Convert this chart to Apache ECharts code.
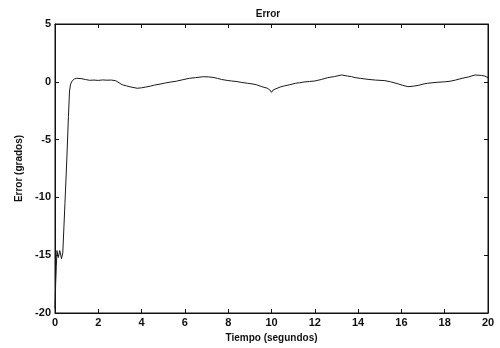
<!DOCTYPE html>
<html>
<head>
<meta charset="utf-8">
<script src="https://cdn.jsdelivr.net/npm/echarts@6/dist/echarts.min.js"></script>
<style>html,body{margin:0;padding:0;background:#fff}#c{width:500px;height:348px}</style>
</head>
<body>
<div id="c"></div>
<script>
var titleText = "Error";
var xName = "Tiempo (segundos)";
var yName = "Error (grados)";
var xTicks = [0, 2, 4, 6, 8, 10, 12, 14, 16, 18, 20];
var yTicks = [-20, -15, -10, -5, 0, 5];
var timeValues = [0, 0.03, 0.06, 0.09, 0.15, 0.22, 0.3, 0.36, 0.46, 0.55, 0.62, 0.67, 0.72, 0.8, 0.9, 1.0, 1.2, 1.4, 1.6, 1.8, 2.0, 2.2, 2.4, 2.6, 2.8, 3.1, 3.3, 3.5, 3.8, 4.0, 4.2, 4.4, 4.6, 4.85, 5.1, 5.35, 5.6, 5.9, 6.2, 6.5, 6.85, 7.1, 7.3, 7.5, 7.7, 7.95, 8.16, 8.4, 8.6, 8.9, 9.1, 9.3, 9.55, 9.8, 9.92, 10.0, 10.08, 10.16, 10.4, 10.6, 10.85, 11.1, 11.3, 11.5, 11.75, 12.0, 12.3, 12.6, 12.9, 13.24, 13.5, 13.7, 13.86, 14.1, 14.46, 14.8, 15.24, 15.5, 15.8, 16.05, 16.3, 16.55, 16.8, 17.0, 17.2, 17.6, 18.0, 18.25, 18.5, 18.8, 19.1, 19.4, 19.7, 19.85, 20.0];
var errorValues = [-19.6, -17.5, -16.0, -14.6, -15.2, -14.6, -15.3, -14.8, -10.5, -6.5, -3.0, -0.8, -0.2, 0.1, 0.25, 0.3, 0.28, 0.2, 0.13, 0.15, 0.12, 0.16, 0.14, 0.15, 0.1, -0.25, -0.35, -0.45, -0.56, -0.52, -0.45, -0.38, -0.28, -0.2, -0.1, -0.02, 0.05, 0.18, 0.3, 0.36, 0.44, 0.42, 0.38, 0.3, 0.2, 0.12, 0.07, 0.02, -0.05, -0.13, -0.18, -0.25, -0.42, -0.55, -0.7, -0.91, -0.7, -0.56, -0.45, -0.35, -0.25, -0.13, -0.08, -0.02, 0.03, 0.07, 0.2, 0.36, 0.45, 0.59, 0.5, 0.45, 0.36, 0.3, 0.21, 0.15, 0.1, 0.0, -0.15, -0.3, -0.42, -0.38, -0.3, -0.2, -0.13, -0.05, 0.0, 0.05, 0.15, 0.3, 0.42, 0.59, 0.55, 0.5, 0.36];

var seriesData = timeValues.map(function (t, i) { return [t, errorValues[i]]; });
var fontBase = {fontFamily: "Liberation Sans, Arial, sans-serif", fontWeight: "bold", fontSize: 11, color: "#111"};

var chart = echarts.init(document.getElementById("c"), null, {renderer: "canvas"});
chart.setOption({
  backgroundColor: "#fff",
  animation: false,
  title: {
    text: titleText, left: 263, top: 4, textAlign: "center",
    textStyle: Object.assign({}, fontBase, {fontSize: 10})
  },
  grid: {left: 55, right: 12, top: 24, bottom: 35, show: true, borderColor: "#111", borderWidth: 1},
  xAxis: [{
    type: "value", min: xTicks[0], max: xTicks[xTicks.length - 1], interval: 2,
    name: xName, nameLocation: "middle", nameGap: 19,
    nameTextStyle: Object.assign({}, fontBase, {fontSize: 10}),
    axisLine: {show: true, onZero: false, lineStyle: {color: "#111", width: 1}},
    axisTick: {show: true, inside: true, length: 4, lineStyle: {color: "#111"}},
    axisLabel: Object.assign({}, fontBase, {margin: 4}),
    splitLine: {show: false}
  }, {
    type: "value", position: "top", min: xTicks[0], max: xTicks[xTicks.length - 1], interval: 2,
    axisLine: {show: true, onZero: false, lineStyle: {color: "#111"}},
    axisTick: {show: true, inside: true, length: 4, lineStyle: {color: "#111"}},
    axisLabel: {show: false}, splitLine: {show: false}
  }],
  yAxis: [{
    type: "value", min: yTicks[0], max: yTicks[yTicks.length - 1], interval: 5,
    name: yName, nameLocation: "middle", nameGap: 31, nameRotate: 90,
    nameTextStyle: Object.assign({}, fontBase, {fontSize: 10}),
    axisLine: {show: true, onZero: false, lineStyle: {color: "#111", width: 1}},
    axisTick: {show: true, inside: true, length: 4, lineStyle: {color: "#111"}},
    axisLabel: Object.assign({}, fontBase, {margin: 4}),
    splitLine: {show: false}
  }, {
    type: "value", position: "right", min: yTicks[0], max: yTicks[yTicks.length - 1], interval: 5,
    axisLine: {show: true, onZero: false, lineStyle: {color: "#111"}},
    axisTick: {show: true, inside: true, length: 4, lineStyle: {color: "#111"}},
    axisLabel: {show: false}, splitLine: {show: false}
  }],
  series: [{
    type: "line", data: seriesData, xAxisIndex: 0, yAxisIndex: 0,
    showSymbol: false, symbol: "none", smooth: false,
    lineStyle: {color: "#1a1a1a", width: 1}
  }]
});
</script>
</body>
</html>
